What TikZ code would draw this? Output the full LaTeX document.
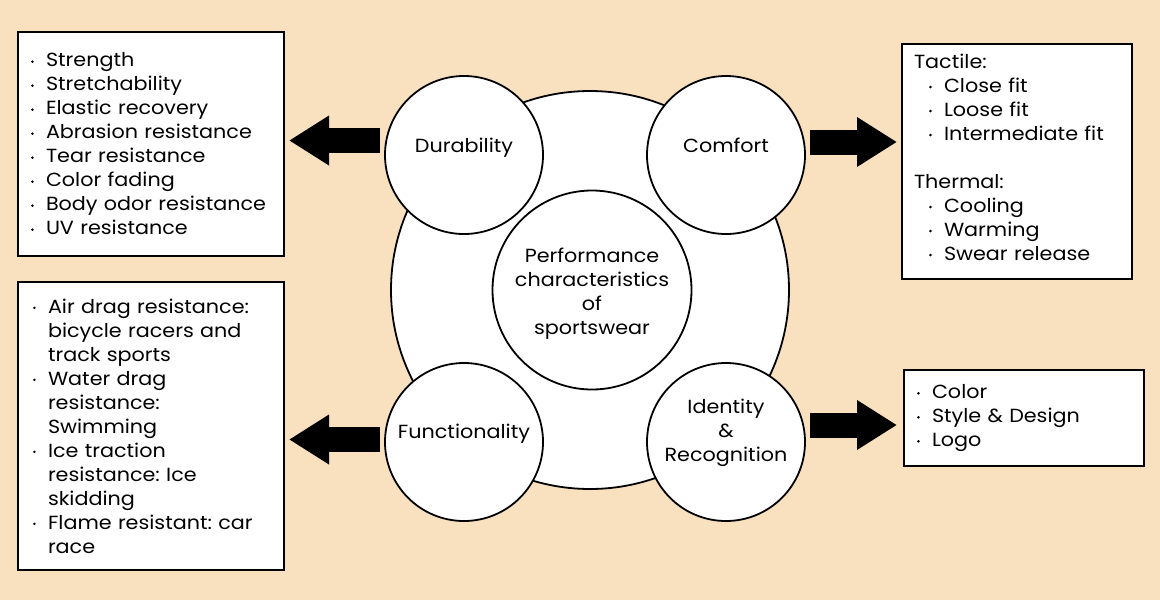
\documentclass[tikz,border=0pt]{standalone}
\usepackage{fontspec}
\setmainfont{Poppins}[FakeStretch=1.09]
\usetikzlibrary{arrows.meta}
\definecolor{bgpeach}{HTML}{F9E1BF}
\newcommand\bul{\makebox[15pt][l]{\raisebox{3.8pt}{\tikz\fill (0,0) circle (1.4pt);}}}
\newcommand\ind{\hspace{15pt}}
\frenchspacing
\begin{document}
\begin{tikzpicture}[x=1pt,y=-1pt,
  txt/.style={font=\fontsize{19}{24}\selectfont, align=center, inner sep=0pt},
  ring/.style={circle, draw=black, line width=1.8pt, fill=white, inner sep=0pt},
  listbox/.style={rectangle, draw=black, line width=2pt, fill=white, anchor=north west,
     font=\fontsize{19}{24}\selectfont, align=left},
  bigarrow/.style={line width=25pt, -{Triangle[length=40pt,width=47pt]}}]
\fill[bgpeach] (0,0) rectangle (1160,600);
\useasboundingbox (0,0) rectangle (1160,600);

% central structure
\node[ring, minimum size=398pt] (main) at (590,290) {};
\node[ring, minimum size=199pt] (core) at (592,290) {};
\node[ring, minimum size=158pt] (dur) at (464,155) {};
\node[ring, minimum size=158pt] (com) at (726,155) {};
\node[ring, minimum size=158pt] (fun) at (464,442) {};
\node[ring, minimum size=158pt] (ide) at (726,442) {};
\node[txt] (coret) at (592,294) {Performance\\characteristics\\of\\sportswear};
\node[txt] (durt) at (464,148) {Durability};
\node[txt] (comt) at (726,145) {Comfort};
\node[txt] (funt) at (464,434) {Functionality};
\node[txt] (idet) at (726,433) {Identity\\\&\\Recognition};

% boxes
\node[listbox, minimum width=266pt, minimum height=224pt, text width=240pt, inner xsep=13pt]
  (box1) at (17,31) {\bul Strength\\\bul Stretchability\\\bul Elastic recovery\\\bul Abrasion resistance\\\bul Tear resistance\\\bul Color fading\\\bul Body odor resistance\\\bul UV resistance};
\node[listbox, minimum width=230pt, minimum height=235pt, text width=206pt, inner xsep=12pt]
  (box2) at (901,43) {Tactile:\\\hspace{15pt}\bul Close fit\\\hspace{15pt}\bul Loose fit\\\hspace{15pt}\bul Intermediate fit\\[24pt]Thermal:\\\hspace{15pt}\bul Cooling\\\hspace{15pt}\bul Warming\\\hspace{15pt}\bul Swear release\rule[-9pt]{0pt}{9pt}};
\node[listbox, minimum width=266pt, minimum height=288pt, text width=236pt, inner xsep=15pt]
  (box3) at (17,281) {\bul Air drag resistance:\\\ind bicycle racers and\\\ind track sports\\\bul Water drag\\\ind resistance:\\\ind Swimming\\\bul Ice traction\\\ind resistance: Ice\\\ind skidding\\\bul Flame resistant: car\\\ind race};
\node[listbox, minimum width=240pt, minimum height=96pt, text width=214pt, inner xsep=13pt]
  (box4) at (903,369) {\bul Color\\\bul Style \& Design\\\bul Logo};

% arrows
\coordinate (a1s) at (380,140.5);
\coordinate (a1e) at (289,140.5);
\coordinate (a2s) at (810,142);
\coordinate (a2e) at (897,142);
\coordinate (a3s) at (380,439.5);
\coordinate (a3e) at (289,439.5);
\coordinate (a4s) at (810,425);
\coordinate (a4e) at (897,425);
\draw[bigarrow] (a1s) -- (a1e);
\draw[bigarrow] (a2s) -- (a2e);
\draw[bigarrow] (a3s) -- (a3e);
\draw[bigarrow] (a4s) -- (a4e);
\end{tikzpicture}
\end{document}
